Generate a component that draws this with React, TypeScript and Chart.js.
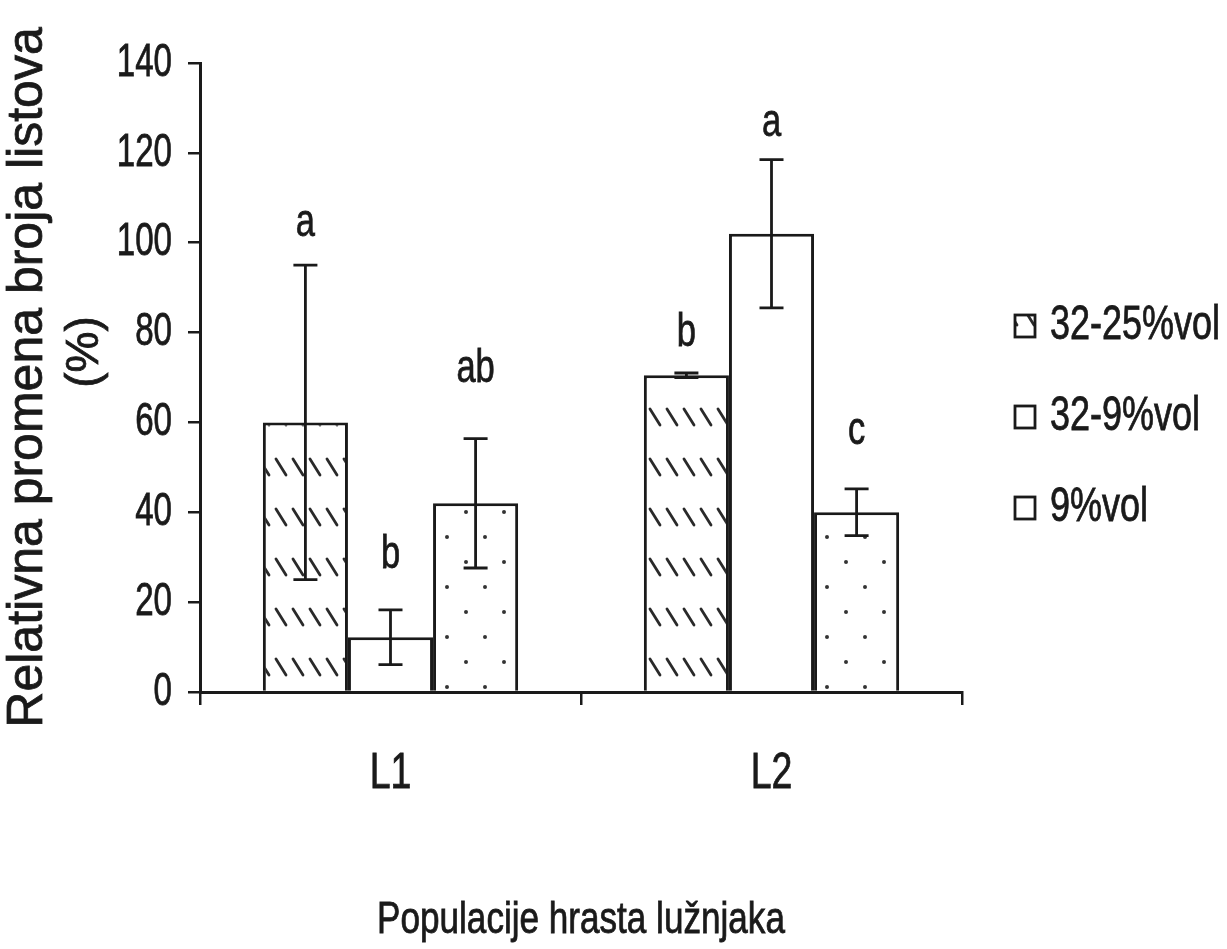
import React, { useEffect, useRef } from "react";
import { Chart, registerables } from "chart.js";
Chart.register(...registerables);

// ---------- data ----------
const categories = ["L1", "L2"];
const seriesNames = ["32-25%vol", "32-9%vol", "9%vol"];
const values1 = [60, 70.5];
const values2 = [12.2, 102];
const values3 = [42, 40];
const errors1 = [35, 0.5];
const errors2 = [6.1, 16.5];
const errors3 = [14.4, 5.2];
const letters1 = ["a", "b"];
const letters2 = ["b", "a"];
const letters3 = ["ab", "c"];
const letterLevels1 = [101.6, 77.1];
const letterLevels2 = [27.6, 123.8];
const letterLevels3 = [68.9, 55.3];
const yMin = 0;
const yMax = 140;
const yStep = 20;
const xTitle = "Populacije hrasta lužnjaka";
const yTitle = "Relativna promena broja listova";
const yUnit = "(%)";

const FONT = '"Liberation Sans", Arial, sans-serif';
const INK = "#1a1a1a";

function makeHatch(): CanvasPattern | string {
  const c = document.createElement("canvas");
  c.width = 17;
  c.height = 50;
  const g = c.getContext("2d");
  if (!g) return "#fff";
  g.fillStyle = "#fff";
  g.fillRect(0, 0, 17, 50);
  g.strokeStyle = "#2a2a2a";
  g.lineWidth = 2.8;
  g.lineCap = "round";
  g.beginPath();
  g.moveTo(4, 9);
  g.lineTo(14, 25);
  g.stroke();
  const p = g.createPattern(c, "repeat");
  return p || "#fff";
}

function makeDots(): CanvasPattern | string {
  const c = document.createElement("canvas");
  c.width = 38;
  c.height = 50;
  const g = c.getContext("2d");
  if (!g) return "#fff";
  g.fillStyle = "#fff";
  g.fillRect(0, 0, 38, 50);
  g.fillStyle = "#333";
  g.beginPath();
  g.arc(10, 12, 2, 0, Math.PI * 2);
  g.arc(29, 37, 2, 0, Math.PI * 2);
  g.fill();
  const p = g.createPattern(c, "repeat");
  return p || "#fff";
}

function drawText(
  ctx: CanvasRenderingContext2D,
  text: string,
  x: number,
  y: number,
  size: number,
  sx: number,
  align: CanvasTextAlign,
  baseline: CanvasTextBaseline,
  rotate = 0
) {
  ctx.save();
  ctx.translate(x, y);
  if (rotate) ctx.rotate(rotate);
  ctx.scale(sx, 1);
  ctx.font = `${size}px ${FONT}`;
  ctx.fillStyle = INK;
  ctx.strokeStyle = INK;
  ctx.lineWidth = 0.8;
  ctx.textAlign = align;
  ctx.textBaseline = baseline;
  ctx.fillText(text, 0, 0);
  ctx.strokeText(text, 0, 0);
  ctx.restore();
}

export default function App() {
  const ref = useRef<HTMLCanvasElement | null>(null);

  useEffect(() => {
    if (!ref.current) return;
    const hatch = makeHatch();
    const dots = makeDots();
    const fills = [hatch, "#ffffff", dots];
    const errors = [errors1, errors2, errors3];
    const letters = [letters1, letters2, letters3];
    const letterLevels = [letterLevels1, letterLevels2, letterLevels3];

    const annotate = {
      id: "annotate",
      afterDatasetsDraw(chart: any) {
        const ctx: CanvasRenderingContext2D = chart.ctx;
        const ys = chart.scales.y;
        ctx.save();
        ctx.strokeStyle = INK;
        ctx.lineWidth = 2.8;
        chart.data.datasets.forEach((ds: any, i: number) => {
          const meta = chart.getDatasetMeta(i);
          meta.data.forEach((el: any, j: number) => {
            const v = ds.data[j];
            const e = errors[i][j];
            const x = el.x;
            const t = ys.getPixelForValue(v + e);
            const b = ys.getPixelForValue(v - e);
            ctx.beginPath();
            ctx.moveTo(x, t);
            ctx.lineTo(x, b);
            ctx.moveTo(x - 12, t);
            ctx.lineTo(x + 12, t);
            ctx.moveTo(x - 12, b);
            ctx.lineTo(x + 12, b);
            ctx.stroke();
            drawText(ctx, letters[i][j], x, ys.getPixelForValue(letterLevels[i][j]), 46, 0.75, "center", "alphabetic");
          });
        });
        ctx.restore();
      },
      afterDraw(chart: any) {
        const ctx: CanvasRenderingContext2D = chart.ctx;
        const ys = chart.scales.y;
        const xs = chart.scales.x;
        const area = chart.chartArea;
        // y tick labels
        ys.ticks.forEach((tk: any) => {
          drawText(ctx, String(tk.value), area.left - 28, ys.getPixelForValue(tk.value), 46, 0.72, "right", "middle");
        });
        // x category labels
        categories.forEach((c, i) => {
          drawText(ctx, c, xs.getPixelForValue(i), 788, 50, 0.75, "center", "alphabetic");
        });
        // titles
        drawText(ctx, xTitle, (area.left + area.right) / 2, 933, 45, 0.78, "center", "alphabetic");
        drawText(ctx, yTitle, 28, (area.top + area.bottom) / 2, 50, 1, "center", "middle", -Math.PI / 2);
        drawText(ctx, yUnit, 85, 352, 46, 1, "center", "middle", -Math.PI / 2);
        // legend
        const legendY = [326, 417, 508];
        seriesNames.forEach((name, i) => {
          const y = legendY[i];
          ctx.save();
          ctx.fillStyle = i === 0 ? (hatch as any) : "#fff";
          ctx.fillRect(1015, y - 11, 20, 22);
          ctx.strokeStyle = INK;
          ctx.lineWidth = 2.8;
          ctx.strokeRect(1015, y - 11, 20, 22);
          ctx.restore();
          drawText(ctx, name, 1050, y, 48, 0.75, "left", "middle");
        });
      },
    };

    const chart = new Chart(ref.current, {
      type: "bar",
      data: {
        labels: categories,
        datasets: [
          { label: seriesNames[0], data: values1, backgroundColor: fills[0] as any, borderColor: INK, borderWidth: 3 },
          { label: seriesNames[1], data: values2, backgroundColor: fills[1] as any, borderColor: INK, borderWidth: 3 },
          { label: seriesNames[2], data: values3, backgroundColor: fills[2] as any, borderColor: INK, borderWidth: 3 },
        ],
      },
      options: {
        responsive: false,
        animation: false,
        devicePixelRatio: 1,
        layout: { padding: { top: 63, right: 265, bottom: 0, left: 0 } },
        datasets: { bar: { categoryPercentage: 0.67, barPercentage: 1.0 } },
        plugins: { legend: { display: false }, tooltip: { enabled: false }, title: { display: false } },
        scales: {
          x: {
            offset: true,
            grid: { offset: true, drawOnChartArea: false, drawTicks: true, tickLength: 13, color: INK, lineWidth: 2.5 },
            border: { display: true, color: INK, width: 3 },
            ticks: { display: false },
            afterFit: (s: any) => {
              s.height = 257;
            },
          },
          y: {
            min: yMin,
            max: yMax,
            ticks: { display: false, stepSize: yStep },
            grid: { drawOnChartArea: false, drawTicks: true, tickLength: 12, color: INK, lineWidth: 2.5 },
            border: { display: true, color: INK, width: 3 },
            afterFit: (s: any) => {
              s.width = 200;
            },
          },
        },
      },
      plugins: [annotate],
    });
    return () => chart.destroy();
  }, []);

  return (
    <div style={{ position: "fixed", left: 0, top: 0, width: 1227, height: 949, background: "#fff" }}>
      <canvas ref={ref} width={1227} height={949} style={{ width: 1227, height: 949, display: "block" }} />
    </div>
  );
}
